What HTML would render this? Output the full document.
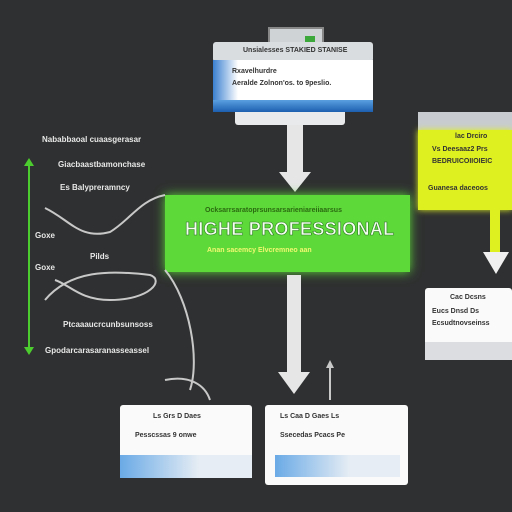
<!DOCTYPE html>
<html><head><style>
html,body{margin:0;padding:0}
body{width:512px;height:512px;background:#2f3031;position:relative;overflow:hidden;font-family:"Liberation Sans",sans-serif}
.a{position:absolute}
.t{position:absolute;font-size:8px;color:#e8e8e8;white-space:nowrap;font-weight:bold}
.d{position:absolute;font-size:7px;color:#333;white-space:nowrap;font-weight:bold}
</style></head><body>
<!-- top box -->
<div class="a" style="left:268px;top:27px;width:52px;height:20px;background:#cfd3d6;border:2px solid #888"></div>
<div class="a" style="left:305px;top:36px;width:10px;height:8px;background:#3ca83c"></div>
<div class="a" style="left:213px;top:42px;width:160px;height:20px;background:#d9dde0;border-radius:3px"></div>
<div class="d" style="left:243px;top:47px;">Unsialesses STAKIED STANISE</div>
<div class="a" style="left:213px;top:60px;width:160px;height:42px;background:linear-gradient(90deg,#3a7fd0 0,#fff 25px,#fff 100%)"></div>
<div class="d" style="left:232px;top:68px">Rxavelhurdre</div>
<div class="d" style="left:232px;top:80px">Aeralde Zolnon'os. to 9peslio.</div>
<div class="a" style="left:213px;top:100px;width:160px;height:12px;background:linear-gradient(180deg,#5aa0e0,#1d5fb0)"></div>
<div class="a" style="left:235px;top:112px;width:110px;height:13px;background:#e8eaec;border-radius:0 0 3px 3px"></div>
<!-- arrow from top -->
<div class="a" style="left:287px;top:125px;width:16px;height:50px;background:#e6e6e6"></div>
<div class="a" style="left:279px;top:172px;width:0;height:0;border-left:16px solid transparent;border-right:16px solid transparent;border-top:20px solid #e6e6e6"></div>
<!-- green box -->
<div class="a" style="left:165px;top:195px;width:245px;height:77px;background:#5ed93a;box-shadow:0 0 10px #5ed93a"></div>
<div class="d" style="left:205px;top:207px;color:#2a6a10">Ocksarrsaratoprsunsarsarieniareiiaarsus</div>
<div class="a" style="left:185px;top:219px;font-size:18px;font-weight:bold;color:#f4fff0;white-space:nowrap;letter-spacing:0.3px;-webkit-text-stroke:0.6px #2a7a20">HIGHE PROFESSIONAL</div>
<div class="d" style="left:207px;top:247px;color:#f0f870">Anan sacemcy Elvcremneo aan</div>
<!-- yellow box -->
<div class="a" style="left:418px;top:112px;width:94px;height:18px;background:#c8ccd0"></div>
<div class="a" style="left:418px;top:130px;width:94px;height:80px;background:#dff020;box-shadow:0 0 6px #dff020"></div>
<div class="d" style="left:455px;top:133px">lac Drciro</div>
<div class="d" style="left:432px;top:146px">Vs Deesaaz2 Prs</div>
<div class="d" style="left:432px;top:158px">BEDRUICOIIOIEIC</div>
<div class="d" style="left:428px;top:185px">Guanesa daceoos</div>
<div class="a" style="left:490px;top:210px;width:10px;height:45px;background:#dff020"></div>
<div class="a" style="left:483px;top:252px;border-left:13px solid transparent;border-right:13px solid transparent;border-top:22px solid #f0f0f0"></div>
<!-- right white box -->
<div class="a" style="left:425px;top:288px;width:87px;height:72px;background:#fafafa;border-radius:3px"></div>
<div class="d" style="left:450px;top:294px">Cac Dcsns</div>
<div class="d" style="left:432px;top:308px">Eucs Dnsd Ds</div>
<div class="d" style="left:432px;top:320px">Ecsudtnovseinss</div>
<div class="a" style="left:425px;top:342px;width:87px;height:18px;background:#dcdde0"></div>
<!-- left texts -->
<div class="t" style="left:42px;top:135px">Nababbaoal cuaasgerasar</div>
<div class="t" style="left:58px;top:160px">Giacbaastbamonchase</div>
<div class="t" style="left:60px;top:183px">Es Balypreramncy</div>
<div class="t" style="left:35px;top:231px">Goxe</div>
<div class="t" style="left:90px;top:252px">Pilds</div>
<div class="t" style="left:35px;top:263px">Goxe</div>
<div class="t" style="left:63px;top:320px">Ptcaaaucrcunbsunsoss</div>
<div class="t" style="left:45px;top:346px">Gpodarcarasaranasseassel</div>
<div class="a" style="left:28px;top:165px;width:2px;height:185px;background:#4ccc2e"></div>
<div class="a" style="left:24px;top:158px;border-left:5px solid transparent;border-right:5px solid transparent;border-bottom:8px solid #4ccc2e"></div>
<div class="a" style="left:24px;top:347px;border-left:5px solid transparent;border-right:5px solid transparent;border-top:8px solid #4ccc2e"></div>
<svg class="a" style="left:0;top:0" width="512" height="512">
<g fill="none" stroke="#c8c8c8" stroke-width="2">
<path d="M45 208 C70 220 80 240 110 232 C130 220 140 200 165 195"/>
<path d="M45 300 C70 270 110 270 150 275 C165 280 150 300 110 300 C80 300 70 285 55 280"/>
<path d="M165 270 C190 300 200 360 190 390"/>
<path d="M165 380 C190 375 205 385 210 400"/>
<path d="M330 365 L330 400"/>
</g>
<path d="M326 368 L330 360 L334 368Z" fill="#c8c8c8"/>
</svg>
<!-- bottom arrow -->
<div class="a" style="left:287px;top:275px;width:14px;height:100px;background:#e6e6e6"></div>
<div class="a" style="left:278px;top:372px;border-left:16px solid transparent;border-right:16px solid transparent;border-top:22px solid #e6e6e6"></div>
<!-- bottom boxes -->
<div class="a" style="left:120px;top:405px;width:132px;height:73px;background:#fafafa;border-radius:3px"></div>
<div class="d" style="left:153px;top:413px">Ls Grs D Daes</div>
<div class="d" style="left:135px;top:432px">Pesscssas 9 onwe</div>
<div class="a" style="left:120px;top:455px;width:132px;height:23px;background:linear-gradient(90deg,#6aaae6,#e6edf4 60%)"></div>
<div class="a" style="left:265px;top:405px;width:143px;height:80px;background:#fafafa;border-radius:3px"></div>
<div class="d" style="left:280px;top:413px">Ls Caa D Gaes Ls</div>
<div class="d" style="left:280px;top:432px">Ssecedas Pcacs Pe</div>
<div class="a" style="left:275px;top:455px;width:125px;height:22px;background:linear-gradient(90deg,#6aaae6,#e6edf4 60%)"></div>
</body></html>
